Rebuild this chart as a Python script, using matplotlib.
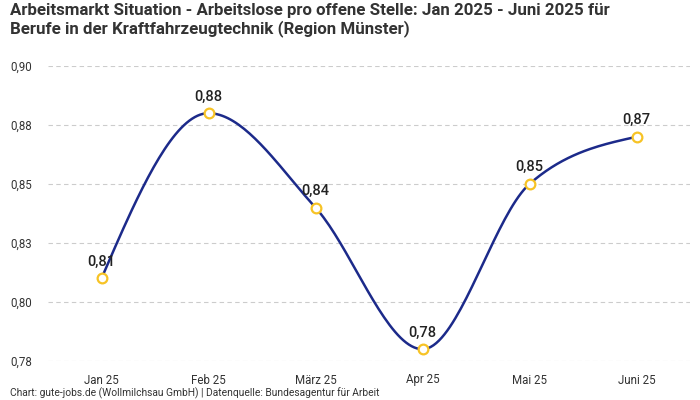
import numpy as np
import matplotlib
matplotlib.use("Agg")
import matplotlib.pyplot as plt

# ── data ──────────────────────────────────────────────────────────────────────
MONTHS = ["Jan 25", "Feb 25", "März 25", "Apr 25", "Mai 25", "Juni 25"]
VALUES = [0.81, 0.88, 0.84, 0.78, 0.85, 0.87]
Y_TICKS = [0.775, 0.80, 0.825, 0.85, 0.875, 0.90]
Y_TICK_LABELS = ["0,78", "0,80", "0,83", "0,85", "0,88", "0,90"]

TITLE = ("Arbeitsmarkt Situation - Arbeitslose pro offene Stelle: Jan 2025 - Juni 2025 für\n"
         "Berufe in der Kraftfahrzeugtechnik (Region Münster)")
FOOTER = "Chart: gute-jobs.de (Wollmilchsau GmbH) | Datenquelle: Bundesagentur für Arbeit"

LINE_COL = "#1c2a8a"
MARK_COL = "#f7c325"
GRID_COL = "#cccccc"
TEXT_COL = "#333333"


def de(v):
    return f"{v:.2f}".replace(".", ",")


def monotone_x(x, y, n=40):
    """d3-style curveMonotoneX rendered as cubic Bezier segments."""
    x = np.asarray(x, float); y = np.asarray(y, float)
    h = np.diff(x); s = np.diff(y) / h
    t = np.zeros(len(x))
    for i in range(1, len(x) - 1):
        p = (s[i - 1] * h[i] + s[i] * h[i - 1]) / (h[i - 1] + h[i])
        t[i] = (np.sign(s[i - 1]) + np.sign(s[i])) * min(abs(s[i - 1]), abs(s[i]), 0.5 * abs(p))
    t[0] = (3 * s[0] - t[1]) / 2
    t[-1] = (3 * s[-1] - t[-2]) / 2
    xs, ys = [], []
    u = np.linspace(0, 1, n)
    for i in range(len(x) - 1):
        dx = h[i] / 3
        P = [(x[i], y[i]), (x[i] + dx, y[i] + dx * t[i]),
             (x[i + 1] - dx, y[i + 1] - dx * t[i + 1]), (x[i + 1], y[i + 1])]
        b = [(1 - u) ** 3, 3 * u * (1 - u) ** 2, 3 * u ** 2 * (1 - u), u ** 3]
        xs.append(sum(bb * p[0] for bb, p in zip(b, P)))
        ys.append(sum(bb * p[1] for bb, p in zip(b, P)))
    return np.concatenate(xs), np.concatenate(ys)


plt.rcParams["font.family"] = ["Roboto", "DejaVu Sans"]

fig = plt.figure(figsize=(7, 4), dpi=100)
ax = fig.add_axes([48 / 700, 1 - 361 / 400, 642 / 700, (361 - 66) / 400])

xpos = np.arange(len(MONTHS))
cx, cy = monotone_x(xpos, VALUES)
ax.plot(cx, cy, color=LINE_COL, lw=1.8, zorder=3, clip_on=False)
ax.plot(xpos, VALUES, "o", ms=7, mfc="white", mec=MARK_COL, mew=1.6,
        zorder=4, clip_on=False)
for xi, v in zip(xpos, VALUES):
    ax.annotate(de(v), (xi, v), xytext=(0, 7), textcoords="offset points",
                ha="center", va="bottom", fontsize=10.5, color="#222222",
                fontweight="medium")

ax.set_xlim(-0.5, len(MONTHS) - 0.5)
ax.set_ylim(Y_TICKS[0], Y_TICKS[-1])
ax.set_xticks(xpos)
ax.set_xticklabels(MONTHS)
ax.set_yticks(Y_TICKS)
ax.set_yticklabels(Y_TICK_LABELS, ha="left")
ax.tick_params(axis="y", length=0, pad=27, labelsize=8.3, labelcolor=TEXT_COL)
ax.tick_params(axis="x", length=0, pad=9, labelsize=8.3, labelcolor=TEXT_COL)
ax.grid(axis="y", color=GRID_COL, ls=(0, (4, 3)), lw=0.8)
for sp in ax.spines.values():
    sp.set_visible(False)

fig.text(10 / 700, 1 - 3 / 400, TITLE, ha="left", va="top", fontsize=12.2,
         fontweight="bold", color=TEXT_COL, linespacing=1.15)
fig.text(10 / 700, 1 - 393 / 400, FOOTER, ha="left", va="center",
         fontsize=7.4, color=TEXT_COL)

fig.savefig("out.png", dpi=100)
